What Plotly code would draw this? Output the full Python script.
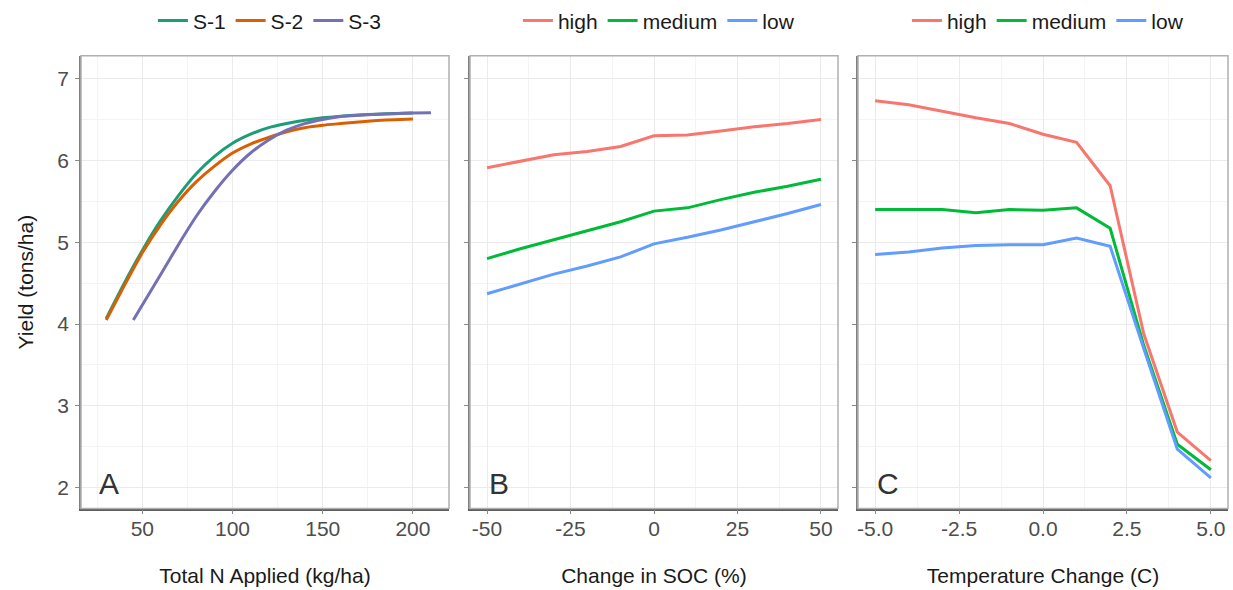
import plotly.graph_objects as go

# ---------------- data ----------------
# Panel A: yield vs total N applied
n_s12 = [30, 40, 50, 60, 70, 80, 90, 100, 110, 120, 130, 140, 150, 160, 170, 180, 190, 200]
s1_yield = [4.07, 4.50, 4.90, 5.26, 5.57, 5.84, 6.05, 6.21, 6.32, 6.40, 6.45, 6.49, 6.52, 6.54, 6.555, 6.565, 6.572, 6.578]
s2_yield = [4.05, 4.47, 4.87, 5.21, 5.50, 5.74, 5.93, 6.09, 6.20, 6.28, 6.35, 6.40, 6.43, 6.45, 6.47, 6.486, 6.498, 6.506]
n_s3 = [45, 60, 70, 80, 90, 100, 110, 120, 130, 140, 150, 160, 170, 180, 190, 200, 210]
s3_yield = [4.05, 4.60, 4.97, 5.32, 5.62, 5.88, 6.09, 6.25, 6.37, 6.45, 6.50, 6.535, 6.551, 6.563, 6.571, 6.579, 6.583]
scen_names = ["S-1", "S-2", "S-3"]

# Panel B: yield vs change in SOC (%)
soc_change = [-50, -40, -30, -20, -10, 0, 10, 20, 30, 40, 50]
soc_high = [5.91, 5.99, 6.07, 6.11, 6.17, 6.30, 6.31, 6.36, 6.41, 6.45, 6.50]
soc_medium = [4.80, 4.92, 5.03, 5.14, 5.25, 5.38, 5.42, 5.52, 5.61, 5.685, 5.77]
soc_low = [4.37, 4.49, 4.61, 4.71, 4.82, 4.98, 5.06, 5.15, 5.25, 5.35, 5.46]

# Panel C: yield vs temperature change (C)
temp_change = [-5, -4, -3, -2, -1, 0, 1, 2, 3, 4, 5]
temp_high = [6.73, 6.68, 6.60, 6.52, 6.45, 6.32, 6.22, 5.69, 3.88, 2.68, 2.33]
temp_medium = [5.40, 5.40, 5.40, 5.36, 5.40, 5.39, 5.42, 5.17, 3.74, 2.53, 2.22]
temp_low = [4.85, 4.88, 4.93, 4.96, 4.97, 4.97, 5.05, 4.95, 3.70, 2.47, 2.12]
level_names = ["high", "medium", "low"]

# tick labels
xa_tickvals = [50, 100, 150, 200]
xa_ticktext = ["50", "100", "150", "200"]
xb_tickvals = [-50, -25, 0, 25, 50]
xb_ticktext = ["-50", "-25", "0", "25", "50"]
xc_tickvals = [-5, -2.5, 0, 2.5, 5]
xc_ticktext = ["-5.0", "-2.5", "0.0", "2.5", "5.0"]
y_tickvals = [2, 3, 4, 5, 6, 7]
y_ticktext = ["2", "3", "4", "5", "6", "7"]

scen_colors = ["#1B9E77", "#D95F02", "#7570B3"]
level_colors = ["#F8766D", "#00BA38", "#619CFF"]

FONT = "Liberation Sans, Arial, sans-serif"
FS = 21
LW = 3

fig = go.Figure()

# Panel A
for name, xs, ys, col in zip(scen_names, [n_s12, n_s12, n_s3], [s1_yield, s2_yield, s3_yield], scen_colors):
    fig.add_trace(go.Scatter(x=xs, y=ys, mode="lines", name=name,
                             line=dict(color=col, width=LW, shape="spline", smoothing=0.5),
                             xaxis="x", yaxis="y", legend="legend"))
# Panel B
for name, ys, col in zip(level_names, [soc_high, soc_medium, soc_low], level_colors):
    fig.add_trace(go.Scatter(x=soc_change, y=ys, mode="lines", name=name,
                             line=dict(color=col, width=LW),
                             xaxis="x2", yaxis="y2", legend="legend2"))
# Panel C
for name, ys, col in zip(level_names, [temp_high, temp_medium, temp_low], level_colors):
    fig.add_trace(go.Scatter(x=temp_change, y=ys, mode="lines", name=name,
                             line=dict(color=col, width=LW),
                             xaxis="x3", yaxis="y3", legend="legend3"))

W, H = 1233, 590
xdoms = [[81 / W, 449 / W], [470 / W, 838 / W], [858 / W, 1228 / W]]
ydom = [(H - 508) / H, (H - 52) / H]

xranges = [[16, 220], [-55.1, 55.1], [-5.51, 5.51]]
xtickvals = [xa_tickvals, xb_tickvals, xc_tickvals]
xticktexts = [xa_ticktext, xb_ticktext, xc_ticktext]
xminor = [25, 12.5, 1.25]
xtitles = ["Total N Applied (kg/ha)", "Change in SOC (%)", "Temperature Change (C)"]
yrange = [1.745, 7.28]

GRID = "#EBEBEB"
MINOR = "#F4F4F4"

layout = dict(
    width=W, height=H, template="none",
    margin=dict(l=0, r=0, t=0, b=0),
    paper_bgcolor="white", plot_bgcolor="white",
    font=dict(family=FONT, size=FS, color="#1a1a1a"),
    showlegend=True,
)

for i in range(3):
    xa = "xaxis" if i == 0 else f"xaxis{i + 1}"
    ya = "yaxis" if i == 0 else f"yaxis{i + 1}"
    yname = "y" if i == 0 else f"y{i + 1}"
    xname = "x" if i == 0 else f"x{i + 1}"
    layout[xa] = dict(
        domain=xdoms[i], anchor=yname, range=xranges[i],
        tickmode="array", tickvals=xtickvals[i], ticktext=xticktexts[i],
        showgrid=True, gridcolor=GRID, gridwidth=1.2, zeroline=False,
        minor=dict(dtick=xminor[i], tick0=0, showgrid=True, gridcolor=MINOR, gridwidth=1, ticks=""),
        showline=True, linecolor="#5E5E5E", linewidth=1.5,
        ticks="outside", ticklen=4, tickcolor="#8A8A8A", tickwidth=1.2,
        tickfont=dict(family=FONT, size=FS, color="#4D4D4D"),
        ticklabelstandoff=-4,
        title=dict(text=xtitles[i], font=dict(family=FONT, size=FS, color="#1a1a1a"), standoff=30),
        automargin=False, fixedrange=True,
    )
    layout[ya] = dict(
        domain=ydom, anchor=xname, range=yrange,
        tickmode="array", tickvals=y_tickvals, ticktext=y_ticktext,
        showgrid=True, gridcolor=GRID, gridwidth=1.2, zeroline=False,
        minor=dict(dtick=0.5, tick0=0, showgrid=True, gridcolor=MINOR, gridwidth=1, ticks=""),
        showline=True, linecolor="#808080", linewidth=1.5,
        ticks="outside", ticklen=4, tickcolor="#8A8A8A", tickwidth=1.2,
        showticklabels=(i == 0),
        tickfont=dict(family=FONT, size=FS, color="#4D4D4D"),
        ticklabelstandoff=2,
        automargin=False, fixedrange=True,
    )
    if i == 0:
        layout[ya]["title"] = dict(text="Yield (tons/ha)", font=dict(family=FONT, size=FS, color="#1a1a1a"), standoff=18)

legend_y = 1 - 17 / H
centers = [(81 + 449) / 2 / W + 0.004, (470 + 838) / 2 / W + 0.004, (858 + 1228) / 2 / W + 0.004]
for i, key in enumerate(["legend", "legend2", "legend3"]):
    layout[key] = dict(orientation="h", x=centers[i], xanchor="center", y=legend_y, yanchor="middle",
                       font=dict(family=FONT, size=FS, color="#1a1a1a"), bgcolor="rgba(0,0,0,0)",
                       itemwidth=30, tracegroupgap=0)

fig.update_layout(**layout)

# panel borders (top / right lighter)
shapes = []
for i in range(3):
    xr = "x domain" if i == 0 else f"x{i + 1} domain"
    yr = "y domain" if i == 0 else f"y{i + 1} domain"
    shapes.append(dict(type="rect", xref=xr, yref=yr, x0=0, x1=1, y0=0, y1=1,
                       line=dict(color="#B0B0B0", width=1.5), layer="above"))
fig.update_layout(shapes=shapes)

# panel letters
letter_x = [25, -50, -5]
for i, lab in enumerate(["A", "B", "C"]):
    xr = "x" if i == 0 else f"x{i + 1}"
    yr = "y" if i == 0 else f"y{i + 1}"
    fig.add_annotation(x=letter_x[i], y=2.05, xref=xr, yref=yr, text=lab, showarrow=False,
                       xanchor="left", yanchor="middle",
                       font=dict(family=FONT, size=30, color="#333333"))

fig.write_html("out.html")
